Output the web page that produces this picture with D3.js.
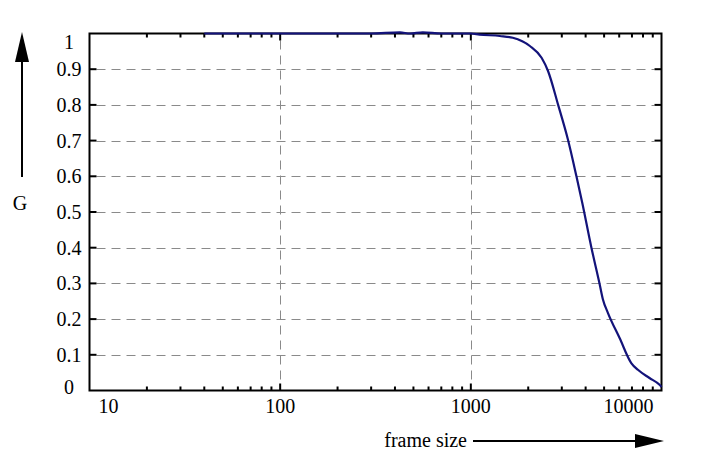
<!DOCTYPE html>
<html>
<head>
<meta charset="utf-8">
<script src="https://cdn.jsdelivr.net/npm/d3@7"></script>
<style>
  body { margin: 0; background: #fff; }
</style>
</head>
<body>
<svg id="chart" width="713" height="461"></svg>
<script>
// frame size vs G
const frameSize = [40, 100, 200, 300, 425, 480, 560, 700, 1000, 1110, 1420, 1660, 2040,
  2350, 2540, 2870, 3230, 3580, 3840, 4290, 4730, 4930, 5240, 6030, 6940, 7520, 8650, 9770, 10000];
const gValue = [1, 1, 1, 1, 1.003, 1, 1.003, 1, 1, 0.997, 0.993, 0.988, 0.965,
  0.932, 0.895, 0.8, 0.703, 0.6, 0.526, 0.4, 0.3, 0.255, 0.217, 0.147, 0.077, 0.058, 0.035, 0.016, 0.01];

const xTicks = [10, 100, 1000, 10000];
const xTickLabels = ["10", "100", "1000", "10000"];
const yTicks = [0, 0.1, 0.2, 0.3, 0.4, 0.5, 0.6, 0.7, 0.8, 0.9, 1];
const yTickLabels = ["0", "0.1", "0.2", "0.3", "0.4", "0.5", "0.6", "0.7", "0.8", "0.9", "1"];

const serif = "'Liberation Serif', 'Times New Roman', 'DejaVu Serif', serif";
const fontSize = 20;

const svg = d3.select("#chart")
  .attr("font-family", serif);
const plotLeft = 89.5, plotRight = 661.5, plotTop = 33.5, plotBottom = 390.5;

const x = d3.scaleLog().domain([10, 10000]).range([plotLeft, plotRight]);
const y = d3.scaleLinear().domain([0, 1]).range([plotBottom, plotTop]);

const minorTicks = [];
[10, 100, 1000].forEach((dec) => {
  for (let k = 2; k <= 9; k += 1) minorTicks.push(dec * k);
});

// grid
const grid = svg.append("g")
  .attr("stroke", "#8a8a8a")
  .attr("stroke-width", 1)
  .attr("stroke-dasharray", "9,6");

grid.selectAll("line.h")
  .data(yTicks.slice(1, -1))
  .join("line")
  .attr("class", "h")
  .attr("x1", plotLeft + 7).attr("x2", plotRight - 7)
  .attr("y1", (d) => Math.round(y(d)) + 0.5)
  .attr("y2", (d) => Math.round(y(d)) + 0.5);

grid.selectAll("line.v")
  .data(xTicks.slice(1, -1))
  .join("line")
  .attr("class", "v")
  .attr("x1", (d) => Math.round(x(d)) + 0.5)
  .attr("x2", (d) => Math.round(x(d)) + 0.5)
  .attr("y1", plotTop + 7).attr("y2", plotBottom - 7);

// frame
svg.append("rect")
  .attr("x", plotLeft).attr("y", plotTop)
  .attr("width", plotRight - plotLeft).attr("height", plotBottom - plotTop)
  .attr("fill", "none")
  .attr("stroke", "#000")
  .attr("stroke-width", 2);

// ticks
const ticks = svg.append("g").attr("stroke", "#000").attr("stroke-width", 2);

ticks.append("g").selectAll("line")
  .data(yTicks.slice(1, -1))
  .join("line")
  .attr("x1", plotLeft).attr("x2", plotLeft + 7)
  .attr("y1", (d) => y(d)).attr("y2", (d) => y(d));

ticks.append("g").selectAll("line")
  .data(yTicks.slice(1, -1))
  .join("line")
  .attr("x1", plotRight).attr("x2", plotRight - 7)
  .attr("y1", (d) => y(d)).attr("y2", (d) => y(d));

[plotBottom, plotTop].forEach((edge) => {
  const dir = edge === plotBottom ? -1 : 1;
  ticks.append("g").selectAll("line")
    .data(xTicks.slice(1, -1))
    .join("line")
    .attr("x1", (d) => x(d)).attr("x2", (d) => x(d))
    .attr("y1", edge).attr("y2", edge + dir * 7);
  ticks.append("g").selectAll("line")
    .data(minorTicks)
    .join("line")
    .attr("x1", (d) => x(d)).attr("x2", (d) => x(d))
    .attr("y1", edge).attr("y2", edge + dir * 4);
});

// curve (drawn over the frame, as in the original)
const line = d3.line()
  .x((d, i) => x(frameSize[i]))
  .y((d) => y(d))
  .curve(d3.curveMonotoneX);

svg.append("path")
  .datum(gValue)
  .attr("fill", "none")
  .attr("stroke", "#13137a")
  .attr("stroke-width", 2.2)
  .attr("d", line);

// tick labels
svg.append("g").selectAll("text")
  .data(yTicks)
  .join("text")
  .attr("x", 69)
  .attr("y", (d) => {
    let yy = y(d);
    if (d === 1) yy += 8;
    if (d === 0) yy -= 4;
    return yy;
  })
  .attr("dy", "0.35em")
  .attr("text-anchor", "middle")
  .attr("font-size", fontSize)
  .text((d, i) => yTickLabels[i]);

svg.append("g").selectAll("text")
  .data(xTicks)
  .join("text")
  .attr("x", (d) => {
    let xx = x(d);
    if (d === 10) xx += 19;
    if (d === 10000) xx -= 33;
    return xx;
  })
  .attr("y", 413)
  .attr("text-anchor", "middle")
  .attr("font-size", fontSize)
  .text((d, i) => xTickLabels[i]);

// axis titles with arrows
svg.append("text")
  .attr("x", 20).attr("y", 210)
  .attr("text-anchor", "middle")
  .attr("font-size", fontSize)
  .text("G");

svg.append("line")
  .attr("x1", 22).attr("x2", 22)
  .attr("y1", 177).attr("y2", 60)
  .attr("stroke", "#000").attr("stroke-width", 2);
svg.append("path")
  .attr("d", "M22,32 L15,62 L29,62 Z")
  .attr("fill", "#000");

svg.append("text")
  .attr("x", 467).attr("y", 447)
  .attr("text-anchor", "end")
  .attr("font-size", fontSize)
  .text("frame size");

svg.append("line")
  .attr("x1", 473).attr("x2", 640)
  .attr("y1", 441).attr("y2", 441)
  .attr("stroke", "#000").attr("stroke-width", 2);
svg.append("path")
  .attr("d", "M664,441 L635,434 L635,448 Z")
  .attr("fill", "#000");
</script>
</body>
</html>
